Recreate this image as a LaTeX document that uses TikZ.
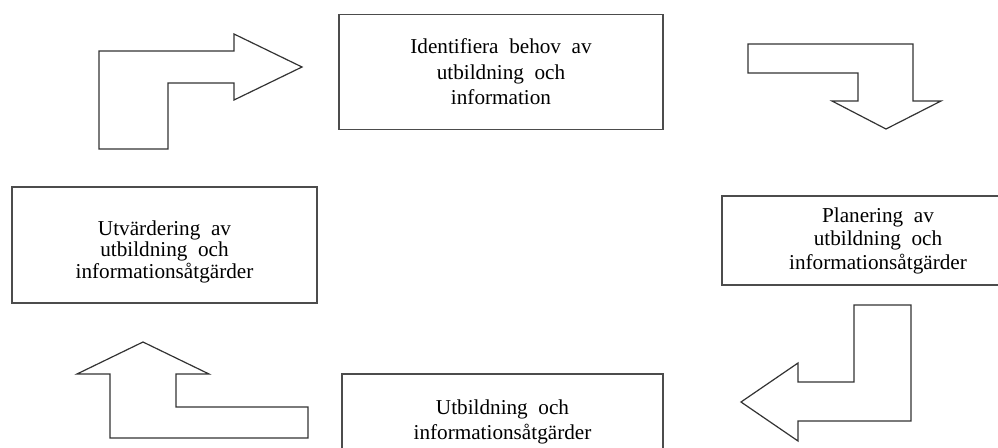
\documentclass[tikz,border=0pt]{standalone}
\usepackage{fontspec}
\setmainfont{Liberation Serif}
\begin{document}
\begin{tikzpicture}[x=1pt,y=-1pt,
  boxnode/.style={draw=black!70,line width=1.3pt,align=center,inner sep=0pt},
  bigarrow/.style={draw=black!80,line width=1.2pt,line join=miter}]
\clip (0,0) rectangle (998,447);
\fill[white] (0,0) rectangle (998,447);
% boxes
\node[boxnode,minimum width=324pt,minimum height=115pt,
  font=\fontsize{21.2}{25.5}\selectfont] (ident) at (501,72)
  {Identifiera\ \ behov\ \ av\\utbildning\ \ och\\information};
\node[boxnode,minimum width=305pt,minimum height=116pt,
  font=\fontsize{21.2}{21.5}\selectfont] (utv) at (164.5,245)
  {\rule{0pt}{28pt}Utvärdering\ \ av\\utbildning\ \ och\\informationsåtgärder};
\node[boxnode,minimum width=312pt,minimum height=89pt,
  font=\fontsize{21.2}{23.5}\selectfont] (plan) at (878,240.5)
  {Planering\ \ av\\utbildning\ \ och\\informationsåtgärder};
\node[boxnode,minimum width=321pt,minimum height=96pt,
  font=\fontsize{21.2}{25}\selectfont] (utb) at (502.5,422)
  {Utbildning\ \ och\\informationsåtgärder};
% arrows
\draw[bigarrow] (99,51) -- (234,51) -- (234,34) -- (302,67) -- (234,100)
  -- (234,83) -- (168,83) -- (168,149) -- (99,149) -- cycle;
\draw[bigarrow] (748,44) -- (913,44) -- (913,101) -- (941,101) -- (886,129)
  -- (832,101) -- (858,101) -- (858,73) -- (748,73) -- cycle;
\draw[bigarrow] (854,305) -- (911,305) -- (911,421) -- (798,421) -- (798,441)
  -- (741,402) -- (798,363) -- (798,382) -- (854,382) -- cycle;
\draw[bigarrow] (143,342) -- (209,374) -- (176,374) -- (176,407) -- (308,407)
  -- (308,438) -- (110,438) -- (110,374) -- (77,374) -- cycle;
\end{tikzpicture}
\end{document}
